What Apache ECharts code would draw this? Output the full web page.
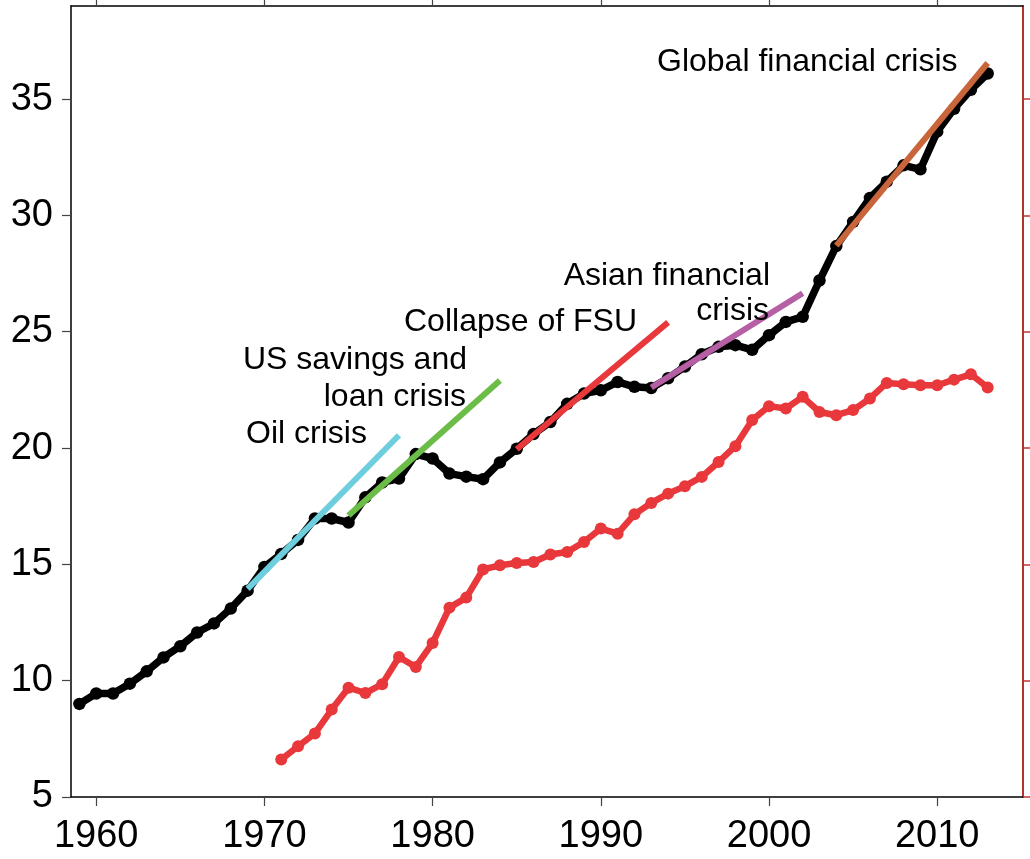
<!DOCTYPE html>
<html><head><meta charset="utf-8">
<script src="https://cdn.jsdelivr.net/npm/echarts@6/dist/echarts.min.js"></script>
<style>html,body{margin:0;padding:0;background:#fff}#c{width:1030px;height:859px}</style>
</head><body><div id="c"></div>
<script>
// ---- data ----
const blackYears = [1959,1960,1961,1962,1963,1964,1965,1966,1967,1968,1969,1970,1971,1972,1973,1974,1975,1976,1977,1978,1979,1980,1981,1982,1983,1984,1985,1986,1987,1988,1989,1990,1991,1992,1993,1994,1995,1996,1997,1998,1999,2000,2001,2002,2003,2004,2005,2006,2007,2008,2009,2010,2011,2012,2013];
const blackValues = [9.0,9.45,9.45,9.87,10.4,11.0,11.48,12.07,12.46,13.1,13.87,14.89,15.45,16.05,16.97,16.97,16.8,17.88,18.52,18.69,19.74,19.55,18.9,18.77,18.66,19.38,19.97,20.6,21.12,21.9,22.34,22.48,22.84,22.63,22.58,23.0,23.5,24.03,24.35,24.42,24.22,24.85,25.42,25.64,27.2,28.68,29.72,30.75,31.45,32.15,31.98,33.6,34.58,35.4,36.1];
const redYears = [1971,1972,1973,1974,1975,1976,1977,1978,1979,1980,1981,1982,1983,1984,1985,1986,1987,1988,1989,1990,1991,1992,1993,1994,1995,1996,1997,1998,1999,2000,2001,2002,2003,2004,2005,2006,2007,2008,2009,2010,2011,2012,2013];
const redValues = [6.61,7.18,7.73,8.76,9.7,9.47,9.85,11.02,10.59,11.62,13.14,13.57,14.78,14.96,15.06,15.1,15.42,15.53,15.96,16.54,16.32,17.15,17.64,18.04,18.36,18.76,19.4,20.08,21.2,21.8,21.7,22.2,21.55,21.41,21.63,22.13,22.8,22.74,22.7,22.7,22.94,23.17,22.6];
const oilCrisisTrend = [[1969,13.95],[1978,20.55]];
const savingsLoanTrend = [[1975,17.1],[1984,22.9]];
const fsuTrend = [[1985,19.95],[1994,25.4]];
const asianTrend = [[1993,22.6],[2002,26.65]];
const globalTrend = [[2004,28.7],[2013,36.55]];
const xTicks = [1960,1970,1980,1990,2000,2010];
const yTicks = [5,10,15,20,25,30,35];
const annotationLines = [
  {text:'Global financial crisis', x:657, y:62, align:'left'},
  {text:'Asian financial', x:770, y:276, align:'right'},
  {text:'crisis', x:769, y:311, align:'right'},
  {text:'Collapse of FSU', x:404, y:322, align:'left'},
  {text:'US savings and', x:467, y:360, align:'right'},
  {text:'loan crisis', x:466, y:397, align:'right'},
  {text:'Oil crisis', x:246, y:434, align:'left'}
];

// ---- chart ----
const FONT = '"Liberation Sans", Arial, Helvetica, sans-serif';
const chart = echarts.init(document.getElementById('c'), null, {renderer:'canvas'});
const pair = (xs, vs) => xs.map((x, i) => [x, vs[i]]);
function trend(data, color) {
  return {type:'line', data:data, showSymbol:false, symbol:'none', z:5,
    lineStyle:{color:color, width:6, cap:'butt'}, silent:true, animation:false};
}
chart.setOption({
  animation:false,
  backgroundColor:'#fff',
  grid:{left:71, right:7, top:6, bottom:62, containLabel:false},
  xAxis:[
    {type:'value', position:'bottom', min:1958.5, max:2015.1,
     axisLine:{show:true, onZero:false, lineStyle:{color:'#000', width:1.5}},
     axisTick:{show:true, inside:false, length:9, customValues:xTicks, lineStyle:{color:'#444', width:1.2}},
     axisLabel:{show:true, customValues:xTicks, fontSize:38, color:'#000', fontFamily:FONT, margin:21,
                formatter:v => String(v)},
     splitLine:{show:false}},
    {type:'value', position:'top', min:1958.5, max:2015.1,
     axisLine:{show:true, onZero:false, lineStyle:{color:'#000', width:1.5}},
     axisTick:{show:true, inside:false, length:9, customValues:xTicks, lineStyle:{color:'#444', width:1.2}},
     axisLabel:{show:false}, splitLine:{show:false}}
  ],
  yAxis:[
    {type:'value', position:'left', min:5, max:39,
     axisLine:{show:true, onZero:false, lineStyle:{color:'#000', width:1.5}},
     axisTick:{show:true, inside:false, length:9, customValues:yTicks, lineStyle:{color:'#444', width:1.2}},
     axisLabel:{show:true, customValues:yTicks, fontSize:38, color:'#000', fontFamily:FONT, margin:18,
                formatter:v => String(v)},
     splitLine:{show:false}},
    {type:'value', position:'right', min:5, max:39,
     axisLine:{show:true, onZero:false, lineStyle:{color:'#b5302f', width:2}},
     axisTick:{show:true, inside:false, length:9, customValues:yTicks, lineStyle:{color:'#c23535', width:1.5}},
     axisLabel:{show:false}, splitLine:{show:false}}
  ],
  series:[
    {type:'line', data:pair(redYears, redValues), symbol:'circle', symbolSize:12, z:3,
     itemStyle:{color:'#e8383b'}, lineStyle:{color:'#e8383b', width:6.5}},
    {type:'line', data:pair(blackYears, blackValues), symbol:'circle', symbolSize:12.5, z:4,
     itemStyle:{color:'#000'}, lineStyle:{color:'#000', width:7.5}},
    trend(oilCrisisTrend, '#6ecedd'),
    trend(savingsLoanTrend, '#6cbd47'),
    trend(fsuTrend, '#e8383b'),
    trend(asianTrend, '#b65fa5'),
    trend(globalTrend, '#c9653b')
  ],
  graphic: annotationLines.map(a => ({
    type:'text', x:a.x, y:a.y, z:100,
    style:{text:a.text, fill:'#000', font:'32px ' + FONT, align:a.align, verticalAlign:'middle'}
  }))
});
</script></body></html>
